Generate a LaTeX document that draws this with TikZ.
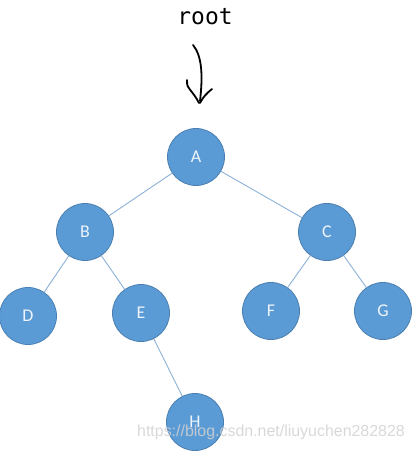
\documentclass[tikz,border=0pt]{standalone}
\usepackage{fontspec}
\setmainfont{Carlito}
\newfontfamily\monof{DejaVu Sans Mono}
\newfontfamily\wmf{Liberation Sans}
\definecolor{nodefill}{HTML}{5B9BD5}
\definecolor{nodeline}{HTML}{4A7EB0}
\definecolor{edgecol}{HTML}{8CB2D8}
\definecolor{labcol}{HTML}{EEF4FB}
\begin{document}
\begin{tikzpicture}[x=1bp,y=-1bp,
  tnode/.style={circle,draw=nodeline,line width=0.8bp,fill=nodefill,minimum size=57bp,inner sep=0pt,
    text=labcol,font=\fontsize{18}{18}\selectfont},
  tedge/.style={draw=edgecol,line width=0.9bp},
  pen/.style={line width=1.8bp,line cap=round,line join=round}]
\useasboundingbox (0,0) rectangle (414,451);
\fill[white] (0,0) rectangle (414,451);
\node[font=\monof\fontsize{23}{23}\selectfont] (root) at (205,17) {root};
% hand-drawn arrow
\draw[pen] (193,45) .. controls (202,56) and (203,75) .. (200,101);
\draw[pen] (187,80) .. controls (185,87) and (193,91) .. (199,103);
\draw[pen] (212,89) .. controls (207,93) and (203,97) .. (200,103);
\node[tnode] (A) at (196,157) {A};
\node[tnode] (B) at (85,232) {B};
\node[tnode] (C) at (327,232) {C};
\node[tnode] (D) at (28,316) {D};
\node[tnode] (E) at (141,313) {E};
\node[tnode] (F) at (271,311) {F};
\node[tnode] (G) at (383,311) {G};
\node[tnode] (H) at (195,422) {H};
\path[tedge] (A) -- (B);
\path[tedge] (A) -- (C);
\path[tedge] (B) -- (D);
\path[tedge] (B) -- (E);
\path[tedge] (C) -- (F);
\path[tedge] (C) -- (G);
\path[tedge] (E) -- (H);
\node[font=\wmf\fontsize{16}{16}\selectfont,text=gray!35,text opacity=0.85] (wm) at (271,432) {https://blog.csdn.net/liuyuchen282828};
\end{tikzpicture}
\end{document}
